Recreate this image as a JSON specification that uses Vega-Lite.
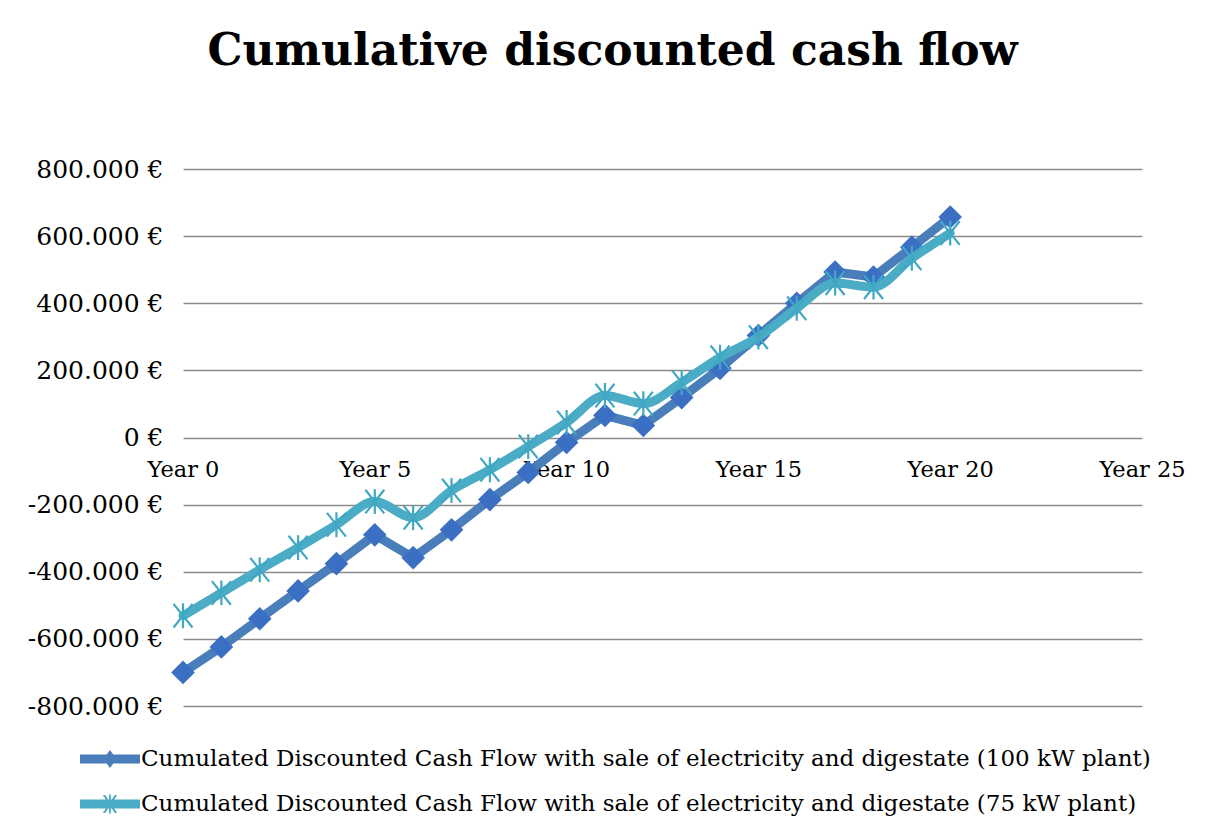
{
  "$schema": "https://vega.github.io/schema/vega-lite/v6.json",
  "autosize": {"type": "none"},
  "width": 959,
  "height": 537,
  "padding": {"left": 183, "top": 169, "right": 70, "bottom": 131},
  "background": "white",
  "config": {
    "font": "DejaVu Serif",
    "view": {"stroke": null},
    "locale": {"number": {"decimal": ",", "thousands": ".", "grouping": [3], "currency": ["", " €"], "minus": "-"}}
  },
  "title": {
    "text": "Cumulative discounted cash flow",
    "font": "DejaVu Serif",
    "fontSize": 44,
    "fontWeight": "bold",
    "color": "black",
    "anchor": "middle",
    "dx": -50,
    "baseline": "alphabetic",
    "offset": 48
  },
  "data": {
    "values": [
      {"year": 0, "series": "100", "value": -700000},
      {"year": 1, "series": "100", "value": -624000},
      {"year": 2, "series": "100", "value": -540000},
      {"year": 3, "series": "100", "value": -457000},
      {"year": 4, "series": "100", "value": -376000},
      {"year": 5, "series": "100", "value": -290000},
      {"year": 6, "series": "100", "value": -358000},
      {"year": 7, "series": "100", "value": -275000},
      {"year": 8, "series": "100", "value": -185000},
      {"year": 9, "series": "100", "value": -104000},
      {"year": 10, "series": "100", "value": -15000},
      {"year": 11, "series": "100", "value": 66000},
      {"year": 12, "series": "100", "value": 36000},
      {"year": 13, "series": "100", "value": 119000},
      {"year": 14, "series": "100", "value": 206000},
      {"year": 15, "series": "100", "value": 304000},
      {"year": 16, "series": "100", "value": 400000},
      {"year": 17, "series": "100", "value": 493000},
      {"year": 18, "series": "100", "value": 478000},
      {"year": 19, "series": "100", "value": 567000},
      {"year": 20, "series": "100", "value": 657000},
      {"year": 0, "series": "75", "value": -531000},
      {"year": 1, "series": "75", "value": -463000},
      {"year": 2, "series": "75", "value": -394000},
      {"year": 3, "series": "75", "value": -328000},
      {"year": 4, "series": "75", "value": -260000},
      {"year": 5, "series": "75", "value": -191000},
      {"year": 6, "series": "75", "value": -239000},
      {"year": 7, "series": "75", "value": -158000},
      {"year": 8, "series": "75", "value": -96000},
      {"year": 9, "series": "75", "value": -27000},
      {"year": 10, "series": "75", "value": 45000},
      {"year": 11, "series": "75", "value": 125000},
      {"year": 12, "series": "75", "value": 101000},
      {"year": 13, "series": "75", "value": 164000},
      {"year": 14, "series": "75", "value": 239000},
      {"year": 15, "series": "75", "value": 299000},
      {"year": 16, "series": "75", "value": 385000},
      {"year": 17, "series": "75", "value": 460000},
      {"year": 18, "series": "75", "value": 448000},
      {"year": 19, "series": "75", "value": 534000},
      {"year": 20, "series": "75", "value": 609000}
    ]
  },
  "encoding": {
    "x": {
      "field": "year",
      "type": "quantitative",
      "scale": {"domain": [0, 25], "nice": false, "zero": false},
      "axis": {
        "title": null,
        "orient": "bottom",
        "offset": -269,
        "values": [0, 5, 10, 15, 20, 25],
        "labelExpr": "'Year ' + datum.value",
        "labelFont": "DejaVu Serif",
        "labelFontSize": 22.5,
        "labelColor": "black",
        "labelFlush": false,
        "labelPadding": 21,
        "ticks": false,
        "tickSize": 0,
        "domain": false,
        "grid": false
      }
    },
    "y": {
      "field": "value",
      "type": "quantitative",
      "scale": {"domain": [-800000, 800000], "nice": false},
      "axis": {
        "title": null,
        "values": [-800000, -600000, -400000, -200000, 0, 200000, 400000, 600000, 800000],
        "format": "$,.0f",
        "labelFont": "DejaVu Serif",
        "labelFontSize": 25,
        "labelColor": "black",
        "labelPadding": 20,
        "ticks": false,
        "tickSize": 0,
        "domain": false,
        "grid": true,
        "gridColor": "#8a8a8a",
        "gridWidth": 1.6
      }
    }
  },
  "layer": [
    {
      "mark": {"type": "point", "filled": true, "opacity": 0, "size": 100},
      "encoding": {
        "color": {
          "field": "series",
          "type": "nominal",
          "scale": {"domain": ["100", "75"], "range": ["#4a7ebb", "#4bacc6"]},
          "legend": {
            "title": null,
            "orient": "none",
            "legendX": -103,
            "legendY": 560,
            "direction": "vertical",
            "labelExpr": "datum.value == '100' ? 'Cumulated Discounted Cash Flow with sale of electricity and digestate (100 kW plant)' : 'Cumulated Discounted Cash Flow with sale of electricity and digestate (75 kW  plant)'",
            "labelFont": "DejaVu Serif",
            "labelFontSize": 23,
            "labelColor": "black",
            "labelLimit": 2000,
            "labelOffset": 1,
            "symbolSize": 3600,
            "symbolOpacity": 1,
            "symbolStrokeWidth": 0,
            "rowPadding": 3
          }
        },
        "shape": {
          "field": "series",
          "type": "nominal",
          "scale": {
            "domain": ["100", "75"],
            "range": [
              "M-1,-0.15L1,-0.15L1,0.15L-1,0.15Z M0,-0.3L0.22,0L0,0.3L-0.22,0Z",
              "M-1,-0.15L1,-0.15L1,0.15L-1,0.15Z M-0.03,-0.32L0.03,-0.32L0.03,0.32L-0.03,0.32Z M-0.24,-0.3L-0.16,-0.3L0.24,0.3L0.16,0.3Z M0.16,-0.3L0.24,-0.3L-0.16,0.3L-0.24,0.3Z"
            ]
          },
          "legend": {
            "title": null,
            "orient": "none",
            "legendX": -103,
            "legendY": 560,
            "direction": "vertical",
            "labelExpr": "datum.value == '100' ? 'Cumulated Discounted Cash Flow with sale of electricity and digestate (100 kW plant)' : 'Cumulated Discounted Cash Flow with sale of electricity and digestate (75 kW  plant)'",
            "labelFont": "DejaVu Serif",
            "labelFontSize": 23,
            "labelColor": "black",
            "labelLimit": 2000,
            "labelOffset": 1,
            "symbolSize": 3600,
            "symbolOpacity": 1,
            "symbolStrokeWidth": 0,
            "rowPadding": 3
          }
        }
      }
    },
    {
      "transform": [{"filter": "datum.series == '100'"}],
      "mark": {"type": "line", "color": "#4a7ebb", "strokeWidth": 9, "strokeJoin": "round", "strokeCap": "round"},
      "encoding": {}
    },
    {
      "transform": [{"filter": "datum.series == '100'"}],
      "mark": {"type": "point", "shape": "diamond", "filled": true, "color": "#3a6fc4", "opacity": 1, "size": 560},
      "encoding": {}
    },
    {
      "transform": [{"filter": "datum.series == '75'"}],
      "mark": {"type": "line", "color": "#4bacc6", "strokeWidth": 9, "strokeJoin": "round", "strokeCap": "round", "interpolate": "monotone"},
      "encoding": {}
    },
    {
      "transform": [{"filter": "datum.series == '75'"}],
      "mark": {"type": "point", "shape": "M-0.8,-1L0.8,1M-0.8,1L0.8,-1M0,-1.05L0,1.05", "filled": false, "color": "#40a8c4", "strokeWidth": 2.2, "opacity": 1, "size": 560},
      "encoding": {}
    }
  ]
}
